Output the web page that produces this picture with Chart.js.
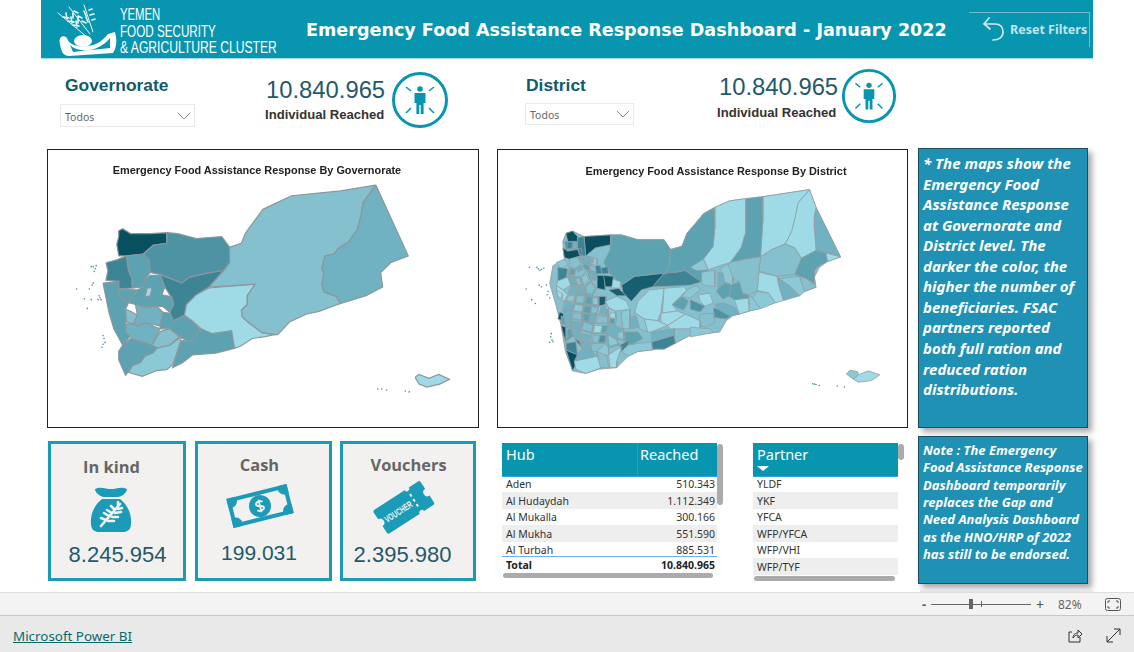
<!DOCTYPE html>
<html><head><meta charset="utf-8"><title>Emergency Food Assistance Response Dashboard</title>
<script src="https://cdn.jsdelivr.net/npm/chart.js@4/dist/chart.umd.min.js"></script>
<style>
html,body{margin:0;padding:0;background:#fff;width:1134px;height:652px;overflow:hidden;font-family:"Liberation Sans",sans-serif}
.a{position:absolute}
.a svg{display:block}
.t{position:absolute;white-space:pre;line-height:1}
canvas{position:absolute}
</style></head><body>
<div id="root"></div>
<script>
const reportTitle = 'Emergency Food Assistance Response Dashboard - January 2022';
const individualsReached = '10.840.965';
const modalityNames = ['In kind', 'Cash', 'Vouchers'];
const modalityValues = ['8.245.954', '199.031', '2.395.980'];
const hubNames = ['Aden', 'Al Hudaydah', 'Al Mukalla', 'Al Mukha', 'Al Turbah'];
const hubReached = ['510.343', '1.112.349', '300.166', '551.590', '885.531'];
const hubTotal = '10.840.965';
const partnerNames = ['YLDF', 'YKF', 'YFCA', 'WFP/YFCA', 'WFP/VHI', 'WFP/TYF'];
const mapNote = ['* The maps show the','Emergency Food','Assistance Response','at Governorate and','District level. The','darker the color, the','higher the number of','beneficiaries. FSAC','partners reported','both full ration and','reduced ration','distributions.'];
const dashNote = ['Note : The Emergency','Food Assistance Response','Dashboard temporarily','replaces the Gap and','Need Analysis Dashboard','as the HNO/HRP of 2022','has still to be endorsed.'];
// shade class per area: 0 = fewest beneficiaries ... 8 = most
const shadePalette = ['#9fdbe7','#8cc9d7','#84c0ce','#70b2c1','#5da2b1','#4d93a3','#3d8495','#155f70','#07505f'];

// governorate outlines, in map-grid units
const govNames = ['Sa\'ada','Al Jawf','Marib','Hajjah','Amran','Sana\'a','Al Mahwit','Al Hudaydah','Raymah','Dhamar','Ibb','Al Bayda','Al Dhale\'e','Taiz','Lahj','Abyan','Shabwah','Hadramawt','Al Maharah','Socotra','Amanat Al Asimah'];
const govShades = [8,5,6,6,4,4,4,4,2,3,3,4,2,4,1,4,0,2,3,0,0];
const govOutlines = [
[116,229,120,227,128,232,148,232,165,231,165,242,151,244,141,253,125,255,116,255,114,243,116,235],
[165,231,176,232,195,237,221,235,229,246,229,262,223,270,205,273,188,277,180,283,158,274,148,272,147,260,141,253,151,244,165,242],
[223,270,208,287,195,295,185,305,183,316,171,322,168,313,171,300,163,287,158,274,180,283,188,277,205,273],
[103,262,114,259,124,255,126,270,129,277,130,288,116,289,116,281,103,280,105,270],
[124,255,141,253,147,260,148,272,143,278,141,287,130,288,129,277,126,270],
[143,278,148,275,158,275,163,287,160,295,170,297,172,305,168,313,161,307,155,307,143,308,133,305,126,303,135,290,141,287],
[116,289,135,290,126,303,116,296],
[100,283,116,281,116,296,126,303,123,310,123,327,128,337,120,347,111,330,106,313,103,298],
[123,310,128,312,135,316,131,325,124,323],
[133,305,143,308,155,307,161,313,158,327,143,324,135,327,131,325,135,316],
[124,325,131,325,135,327,143,324,158,330,150,347,130,340,123,333],
[161,313,168,314,172,322,183,316,191,322,200,332,191,342,186,343,178,338,168,330,158,330,158,327],
[158,333,168,330,178,338,168,347,155,350,150,347],
[120,347,128,340,150,347,155,350,151,355,143,358,138,365,130,368,123,378,116,362,116,353],
[155,350,168,347,180,338,176,353,171,367,165,372,155,373,140,379,126,375,130,368,138,365,143,358,151,355],
[180,342,186,343,191,342,200,330,208,333,211,335,231,332,234,350,215,355,191,357,181,365,171,370,176,353],
[208,288,255,284,247,296,247,305,241,311,242,318,249,324,262,334,275,336,265,338,252,340,240,348,234,350,231,332,211,335,200,330,191,322,183,316,185,305,195,295],
[378,182,342,188,292,193,263,207,247,229,245,232,241,242,229,246,229,262,223,270,208,287,255,284,247,296,247,305,241,311,242,318,249,324,262,334,275,336,278,336,290,323,307,315,320,312,342,304,338,297,325,292,323,285,325,273,323,268,326,255,335,253,340,247,350,241,359,228,363,213,365,200],
[378,182,365,200,363,213,359,228,350,241,340,247,335,253,326,255,323,268,325,273,323,285,325,292,338,297,342,304,368,296,385,287,384,280,383,272,393,262,411,255,402,235],
[418,380,422,377,432,381,442,377,453,382,443,387,430,390,422,387],
[145,288,150,288,148,296,143,297]
];
const govIslands = [[380,392],[384,392],[389,393],[408,394],[412,395],[96,296],[97,298],[95,300],[98,300],[100,337],[101,340],[100,346],[102,344],[99,349],[88,266],[90,266],[92,268],[91,271],[86,289],[90,283],[88,300],[84,309],[73,289],[93,265],[89,285],[81,299]];

// district outlines, in map-grid units
const countryBase = [190,185,210,178,245,195,327,190,360,190,410,205,490,205,510,235,545,225,560,185,600,138,610,125,645,105,690,85,740,78,792,72,935,50,955,105,1030,258,990,272,965,290,950,320,955,352,905,370,860,388,790,410,770,420,700,440,680,455,660,490,610,495,570,500,520,525,455,545,410,550,380,565,345,600,290,605,250,618,210,610,188,550,175,470,160,410,140,340,150,285,185,265,180,210];
const distShades = [3,0,0,0,4,0,4,6,7,4,8,6,5,8,1,8,6,
2,4,1,2,3,0,1,1,0,2,4,1,4,1,3,5,5,0,3,2,0,1,
0,0,4,1,0,0,6,2,3,1,4,0,1,6,3,1,
8,6,8,8,8,7,0,6,6,7,8,0,4,
2,3,1,3,2,3,0,3,3,2,3,2,2,3,0,1,3,3,2,3,3,1,3,2,3,2,1,1,3,2,3,1,3,3,1,2,3,2,3,2,1,3,0,2,0];
const distOutlines = [
[955,105,1030,258,985,245,955,238,950,170,950,130],[983,245,1030,258,990,272],
[935,50,955,105,950,130,950,170,955,238,910,262,890,230,860,218,880,180,892,130,900,90],
[792,72,935,50,900,90,892,130,880,180,860,218,820,235,785,258,792,150],
[740,78,792,72,792,150,785,258,740,265,692,275,725,230,740,180],
[645,105,690,85,740,78,740,180,725,230,692,275,660,285,625,298,610,265,640,225,645,170],
[510,235,545,225,560,185,600,138,610,125,645,105,645,170,640,225,610,265,625,298,605,335,575,315,555,300,530,305,495,312,505,280],
[455,350,490,308,530,305,555,300,575,315,605,335,570,345,520,348],
[360,345,400,318,490,308,455,350,420,360,390,395,365,370],
[325,190,360,190,410,205,490,205,510,235,505,280,495,312,490,308,400,318,360,345,325,310,305,275,325,235],
[245,195,327,190,327,220,280,230,250,255],
[225,198,245,195,250,255,235,255,225,230],
[185,210,225,210,225,235,190,235],
[190,185,210,178,225,195,225,210,195,210],
[160,275,185,265,195,282,175,295],
[180,230,195,240,225,235,235,255,200,265,185,260],
[165,290,195,295,190,330,165,332],
// east
[785,258,820,235,860,218,890,230,910,262,890,312,835,318,780,300],
[910,262,955,238,985,245,990,272,965,285,950,300,950,340,925,325,890,312],
[840,325,905,318,920,365,905,378,870,345],
[905,318,925,325,955,350,920,365],
[840,325,870,345,905,378,855,393,842,350],
[780,305,835,318,842,350,855,393,830,400,810,370,775,362],
[775,365,810,370,830,400,785,418,760,385],
[750,378,760,385,785,418,750,425],
[705,390,748,385,750,425,720,435],
[692,275,740,265,785,258,780,305,775,362,750,375,730,370,720,335,695,320,685,280],
[720,335,730,370,750,378,748,385,705,390,690,380,695,345],
[685,280,700,320,700,345,675,335,670,310,660,295],
[650,365,670,335,695,345,690,378,670,388],
[610,265,625,298,590,300,570,290],
[655,305,670,310,675,340,655,355],
[570,390,615,410,600,428,570,420],
[640,415,705,432,680,450,645,445],
[595,375,630,370,640,400,615,410,600,395],
[645,405,670,400,705,412,720,435,690,440,655,420],
[600,435,640,432,645,460,620,475,595,470],
[570,455,595,460,590,470,570,475],
[605,305,645,300,645,350,610,345,605,335],
// centre-south
[410,395,445,360,490,355,480,430,470,455,430,450,400,430],
[490,355,550,350,560,360,515,405,530,425,485,432],
[515,405,545,380,565,395,550,422,530,415],
[560,360,590,345,600,360,570,385,545,380],
[480,432,530,425,555,435,500,470,480,460],
[555,435,600,455,600,480,520,490,500,470],
[453,520,520,500,525,525,490,543,455,543],
[520,480,600,480,570,500,525,525],
[450,490,520,480,520,500,453,520],
[400,430,430,450,440,490,415,480,400,460],
[370,490,410,490,425,510,390,530,370,520],
[430,450,470,455,480,460,500,470,450,490,440,490],
[380,530,450,520,455,545,410,550,380,565,360,550],
[355,530,385,515,380,530,360,550],
[385,445,405,440,415,475,385,480],
[570,475,630,480,640,492,570,505],
// south-west and central dark blocks
[190,545,225,560,225,580,210,610],
[190,525,220,520,225,560,190,545],
[175,470,190,475,190,525,183,500],
[170,428,185,435,180,455,165,450],
[285,315,310,315,310,360,285,355],
[320,360,350,355,375,378,345,378],
[330,325,358,335,355,355,325,353],
[295,292,318,288,320,310,300,310],
[280,285,295,285,300,310,280,310],
[290,380,312,380,312,405,290,410],
[305,315,335,318,330,350,310,350],
[310,395,345,380,375,395,385,420,340,425,320,415],
[175,440,210,455,205,470,175,465],
// west-central districts
[200,265,225,258,240,275,220,295,200,290],[225,258,255,255,265,280,240,275],[255,255,285,265,285,285,265,280],
[200,290,220,295,215,320,195,320],[220,295,240,275,255,300,235,320,215,320],[240,275,265,280,280,300,255,300],
[165,332,195,320,205,345,180,360,160,345],[195,320,215,320,225,345,205,345],[215,320,235,320,245,350,225,345],
[235,320,255,300,265,330,245,350],[255,300,280,300,285,330,265,330],[205,345,225,345,220,375,195,375],
[225,345,245,350,250,375,220,375],[245,350,265,330,285,355,270,380,250,375],[160,345,180,360,195,375,185,395,165,385],
[195,375,220,375,215,400,185,395],[220,375,250,375,245,405,215,400],[250,375,270,380,290,380,290,410,245,405],
[185,395,215,400,210,425,180,420],[215,400,245,405,240,430,210,425],[245,405,290,410,285,435,240,430],
[290,410,312,405,310,395,320,415,320,440,285,435],[180,420,210,425,205,450,185,455],[210,425,240,430,240,455,205,450],
[240,430,285,435,275,465,240,455],[285,435,320,440,320,465,275,465],[320,415,340,425,345,445,340,470,320,465,320,440],
[360,425,385,420,385,445,385,480,365,480,360,448],[185,455,205,450,205,475,190,475],[205,450,240,455,235,485,205,475],
[240,455,275,465,270,495,235,485],[275,465,320,465,315,495,270,495],[320,465,340,470,365,480,370,490,370,520,345,510,315,495],
[205,475,235,485,235,515,215,505],[235,485,270,495,265,525,235,515],[270,495,315,495,310,525,265,525],
[315,495,345,510,355,530,320,540,310,525],[215,505,235,515,240,540,220,520],[235,515,265,525,270,550,240,540],
[265,525,310,525,285,550,270,550],[310,525,320,540,320,560,285,565,285,550],[225,560,240,540,270,550,285,565,215,580],
[215,580,285,565,300,600,250,618,220,605],[285,550,315,565,320,600,295,600],[320,560,360,535,345,580,345,600,325,600]
];
// the smallest districts of the western highlands
const smallDistShades = [3,3,4,3,4,2,3,2,1,3,3,3,2,1,2,4,1,3,1,4,2,3,2,4,3,2,0,4,3,2,0,4,3,2,5,1,6,4,1,0,6,3,6];
const smallDistOutlines = [
[228,262,243,262,246,276,232,274],[258,258,272,262,272,276,260,276],[205,295,218,298,214,312,200,312],[222,292,238,284,242,298,226,304],
[242,280,258,284,262,298,246,296],[262,284,280,290,282,304,266,300],[200,322,214,322,220,340,205,338],[218,325,232,322,238,345,224,342],
[238,322,252,310,258,328,244,344],[258,305,276,305,280,326,264,326],[208,348,222,348,218,370,200,370],[228,350,242,354,246,372,224,372],
[250,352,266,336,280,354,268,374,254,370],[198,378,216,378,212,396,190,392],[224,378,246,378,242,402,218,398],[254,380,270,384,268,404,248,402],
[272,384,288,384,288,406,270,404],[190,400,212,404,208,422,184,418],[218,404,242,408,238,428,212,424],[248,410,268,410,264,432,242,428],
[268,412,288,414,284,432,266,432],[296,412,310,408,316,420,316,436,292,432],[214,430,238,434,238,452,208,448],[244,434,264,436,258,458,242,452],
[264,438,282,438,274,462,260,460],[290,440,318,444,318,462,280,462],[324,432,340,430,342,448,324,446],[324,448,340,450,338,466,322,462],
[208,456,236,460,232,482,208,472],[244,460,272,468,268,490,238,482],[278,470,300,470,296,492,274,492],[302,470,318,470,312,492,298,492],
[238,492,266,500,262,520,238,512],[274,500,292,500,288,522,270,522],[294,500,312,500,308,522,290,522],[318,498,342,512,350,526,322,534],
[218,510,232,518,236,534,224,522],[196,480,204,480,212,502,192,518],[350,490,366,490,366,516,348,506],[160,360,180,372,178,388,165,380],
[195,212,210,212,208,232,192,232],[212,212,224,212,224,233,210,233],[228,232,236,232,240,252,230,252]
];
const distIslands = [[945,650],[950,651],[955,652],[965,655],[1020,657],[1042,660],[78,290],[100,290],[105,295],[115,297],[122,293],[110,300],[68,357],[108,345],[115,350],[130,345],[135,365],[132,375],[140,385],[85,390],[96,402],[145,495],[143,505],[147,515],[140,522],[150,520]];
const socotraOutlines = [[1068,635,1085,622,1115,610,1150,622,1125,640,1085,645],[1048,620,1058,608,1082,612,1085,622,1068,635]];
const socotraShades = [0,1];

// ---------- page builder ----------
const root = document.getElementById('root');
function box(x,y,w,h,css){const d=document.createElement('div');d.className='a';d.style.cssText+=`left:${x}px;top:${y}px;width:${w}px;height:${h}px;`+(css||'');root.appendChild(d);return d;}
function txt(s,x,y,css,anchor,extra){const d=document.createElement('div');d.className='t';d.textContent=s;d.style.cssText+=`left:${x}px;top:${y}px;transform-origin:left center;transform:translate(${anchor==='r'?'-100%':anchor==='c'?'-50%':'0'},-50%) ${extra||''};`+(css||'');root.appendChild(d);return d;}
function fitWidth(el,target){const w=el.offsetWidth;el.style.transform+=` scaleX(${target/w})`;}
function svg(x,y,w,h,vb,inner,css){const d=document.createElement('div');d.className='a';d.style.cssText+=`left:${x}px;top:${y}px;width:${w}px;height:${h}px;`+(css||'');d.innerHTML=`<svg width="${w}" height="${h}" viewBox="${vb}" xmlns="http://www.w3.org/2000/svg">${inner}</svg>`;root.appendChild(d);}
const TEAL='#0795b0', DARK='#115a6b', SEG='"Noto Sans",sans-serif';

// header
box(41,0,1052,59,`background:${TEAL};border-bottom:1px solid #a8dbe5;box-sizing:border-box;`);
fitWidth(txt(reportTitle,306,29,'font:bold 18.3px "DejaVu Sans",sans-serif;color:#fff;'),641);
const narrow='font:17px "Liberation Sans",sans-serif;color:#fff;';
fitWidth(txt('YEMEN',120,15,narrow),40);fitWidth(txt('FOOD SECURITY',120,32,narrow),96);fitWidth(txt('& AGRICULTURE CLUSTER',120,48,narrow),157);
svg(55,4,65,54,'0 0 65 54',`<g stroke="#fff" fill="none" stroke-linecap="round" opacity=".95">
<path d="M3 9 L32 33" stroke-width="1"/><path d="M14 3 L35 30" stroke-width="1"/><path d="M29 1 L38 28" stroke-width="1"/>
<path d="M8 13l6 1M13 17l6 1M18 21l6 1M11 9l1 6M16 13l1 6M21 17l1 6M19 7l4 2M23 12l4 2M27 17l4 2M18 9l0 5M23 13l0 6M34 6l3-1M35 11l4-1M37 16l3-1M29 7l2 5M31 13l2 5" stroke-width="1.6"/></g>
<path d="M5 40 C3 33 8 30 12 34 C14 44 40 48 53 30 L60 28 C62 36 62 43 58 49 L14 52 C8 52 6 47 5 40 Z" fill="#fff"/>
<path d="M15 41 C24 50 44 48 55 34 L55 44 L18 48 Z" fill="#0795b0"/>
<ellipse cx="28" cy="37" rx="9" ry="6" fill="#fff"/>`);
box(969,12,121,1,'background:#6dbccd;');box(1089,12,1,35,'background:#6dbccd;');
svg(981,15,26,28,'0 0 26 28','<path d="M8 3 L3 9 L9 14 M3 9 H14 C20 9 22 13 22 17 C22 22 18 25 12 25" stroke="#cfe9ef" stroke-width="1.7" fill="none" stroke-linecap="round"/>');
txt('Reset Filters',1010,29,`font:bold 12.5px ${SEG};color:#c3e4eb;`);

// slicers and totals
function person(cx,cy,rx,ry){
 svg(cx-rx-3,cy-ry-3,2*rx+6,2*ry+6,`-30 -30 60 60`,`<circle cx="0" cy="0" r="26.5" fill="#fff" stroke="${TEAL}" stroke-width="3"/>
 <circle cx="0" cy="-11" r="2.8" fill="${TEAL}"/><path d="M-5.5 -7 H5.5 V3 H3.6 V14 H.7 V5 H-.7 V14 H-3.6 V3 H-5.5 Z" fill="${TEAL}"/>
 <path d="M-14 -13 L-9 -9 M14 -13 L9 -9 M-14 13 L-9 8 M14 13 L9 8" stroke="${TEAL}" stroke-width="1.5"/>`);
}
txt('Governorate',65,85,`font:bold 17.4px "Liberation Sans",sans-serif;color:${DARK};`);
txt('District',526,85,`font:bold 17.4px "Liberation Sans",sans-serif;color:${DARK};`);
function drop(x,y,w,h){box(x,y,w-2,h-2,'border:1px solid #eaeaea;');txt('Todos',x+5,y+h/2+1,`font:10.5px ${SEG};color:#666;`);
 svg(x+w-18,y+h/2-4,14,9,'0 0 14 9','<path d="M1 1 L7 7 L13 1" stroke="#888" fill="none"/>');}
drop(60,104,135,23);drop(525,103,109,22);
txt(individualsReached,266,90,`font:23.8px "Liberation Sans",sans-serif;color:#1f5a6b;`);
txt('Individual Reached',265,114,'font:bold 13.1px "Liberation Sans",sans-serif;color:#333;');
person(420,100,27,27);
txt(individualsReached,719,87,`font:23.8px "Liberation Sans",sans-serif;color:#1f5a6b;`);
txt('Individual Reached',717,112,'font:bold 13.1px "Liberation Sans",sans-serif;color:#333;');
person(869,96,26,27);

// map frames
box(47,149,430,277,'border:1px solid #222;');
box(497,149,409,277,'border:1px solid #222;');

// notes
const noteCss='background:#1e91b4;border:1px solid #1a4f60;box-shadow:4px 4px 6px rgba(0,0,0,.35);';
box(918,148,168,278,noteCss);box(918,436,168,146,noteCss);
mapNote.forEach((l,i)=>txt(l,923,163+i*20.55,`font:italic bold 15px ${SEG};color:#fff;`));
dashNote.forEach((l,i)=>txt(l,923,450+i*17.3,`font:italic bold 13px ${SEG};color:#fff;`));

// modality cards
const cardX=[48,195,340], cardW=[138,137,136], titleX=[111.5,259.5,408.5], valX=[117.5,259,402.5], titleY=[466,464,464], valY=[555,553,555], valSize=[22,21,22];
modalityNames.forEach((n,i)=>{
 box(cardX[i],441,cardW[i]-6,134,'background:#f2f1f0;border:3px solid #1a9bb7;');
 txt(n,titleX[i],titleY[i],`font:bold 16.4px "Open Sans",sans-serif;color:#666;`,'c');
 txt(modalityValues[i],valX[i],valY[i],`font:${valSize[i]}px "Liberation Sans",sans-serif;color:#1f5a6b;`,'c');
});
const IC='#1b9bb8';
svg(89,486,44,48,'0 0 44 48',`<path d="M6 3 C12 0 17 3 22 3 C27 3 32 0 38 3 C38 7 32 11 29 11 H15 C12 11 6 7 6 3 Z" fill="${IC}"/>
<path d="M13 13 H31 C38 18 43 28 42 38 C42 44 38 46 34 46 H10 C6 46 2 44 2 38 C1 28 6 18 13 13 Z" fill="${IC}"/>
<path d="M12 40 L31 18 M17 34 l-5-2 M20 30 l-5-3 M23 27 l-5-3 M26 24 l-4-4 M19 35 l6 0 M23 31 l6 0 M26 27 l6-1 M29 23 l4-1 M29 20 l0-4" stroke="#f2f1f0" stroke-width="2.6" stroke-linecap="round"/>`);
svg(226,482,68,48,'0 0 68 48',`<defs><clipPath id="noteClip"><rect x="3" y="9" width="62" height="30"/></clipPath></defs><g transform="rotate(-14 34 24)"><rect x="3" y="9" width="62" height="30" fill="${IC}"/><rect x="7" y="13" width="54" height="22" fill="#f2f1f0"/>
<g clip-path="url(#noteClip)"><circle cx="6" cy="12" r="7" fill="${IC}"/><circle cx="62" cy="12" r="7" fill="${IC}"/><circle cx="6" cy="36" r="7" fill="${IC}"/><circle cx="62" cy="36" r="7" fill="${IC}"/></g>
<circle cx="34" cy="24" r="11" fill="${IC}"/><path d="M37.5 20.5 C36 18.5 30.5 19 30.5 21.5 C30.5 25 37.5 23 37.5 26.5 C37.5 29 32 29.5 30.5 27.5 M34 17.5 V30.5" stroke="#f2f1f0" stroke-width="1.8" fill="none"/></g>`);
svg(370,480,66,56,'0 0 66 56',`<g transform="rotate(-33 33 28)"><path d="M6 16 Q6 14 8 14 H44 a2.5 2.5 0 0 0 5 0 H60 Q62 14 62 16 V24 a4 4 0 0 0 0 8 V40 Q62 42 60 42 H49 a2.5 2.5 0 0 0 -5 0 H8 Q6 42 6 40 V32 a4 4 0 0 0 0 -8 Z" fill="${IC}"/>
<text x="27" y="32" text-anchor="middle" font-family="Liberation Sans" font-weight="bold" font-size="9.5" textLength="31" lengthAdjust="spacingAndGlyphs" fill="#f2f1f0">VOUCHER</text><path d="M46.5 20v3M46.5 26v3M46.5 32v3" stroke="#f2f1f0" stroke-width="2"/></g>`);

// hub table
const cell=`font:10.5px ${SEG};color:#333;`;
box(502,443,215,33,`background:${TEAL};border-bottom:1px solid #2aa3e0;`);
box(637,443,1,33,'background:#1fa2bb;');
txt('Hub',506,454,`font:14.5px ${SEG};color:#fff;`);txt('Reached',640,454,`font:14.5px ${SEG};color:#fff;`);
const rowY=[484,500.5,517,534,550];
box(502,492,215,17,'background:#eeeeee;');box(502,525,215,17,'background:#eeeeee;');
hubNames.forEach((n,i)=>{txt(n,506,rowY[i],cell);txt(hubReached[i],715,rowY[i],cell,'r');});
box(502,556,215,1,'background:#6cb4ea;');
txt('Total',506,565,`font:bold 10.5px ${SEG};color:#222;`);txt(hubTotal,715,565,`font:bold 10.5px ${SEG};color:#222;`,'r');
box(503,573,210,5,'background:#ababab;border-radius:3px;');
box(717,444,6,61,'background:#ababab;border-radius:3px;');

// partner list
box(753,443,145,33,`background:${TEAL};border-bottom:1px solid #2aa3e0;`);
txt('Partner',757,454,`font:14.5px ${SEG};color:#fff;`);
svg(757,466,12,5,'0 0 12 5','<path d="M0 0 H12 L6 5 Z" fill="#fff"/>');
const partY=[484,501,517,534,550,567];
box(753,492,145,17,'background:#eeeeee;');box(753,525,145,17,'background:#eeeeee;');box(753,558,145,17,'background:#eeeeee;');
partnerNames.forEach((n,i)=>txt(n,757,partY[i],cell));
box(754,576,141,5,'background:#ababab;border-radius:3px;');
box(898,444,6,16,'background:#ababab;border-radius:3px;');

// footer
box(920,590,173,2,'background:#e6e6e6;');
box(0,592,1134,23,'background:#f3f3f3;border-top:1px solid #dedede;box-sizing:border-box;');
box(0,615,1134,37,'background:#e9e9e9;border-top:1px solid #c8c8c8;box-sizing:border-box;');
txt('Microsoft Power BI',13,636,`font:13.4px ${SEG};color:#0b6a6a;text-decoration:underline;`);
txt('-',922,604,`font:bold 13px ${SEG};color:#555;`);
box(931,604,100,1,'background:#666;');box(969,599,4,10,'background:#666;');box(981,601,1,6,'background:#666;');
txt('+',1036,604,`font:14px ${SEG};color:#555;`);txt('82%',1058,604,`font:12px ${SEG};color:#666;`);
svg(1105,598,16,13,'0 0 16 13','<rect x=".5" y=".5" width="15" height="12" rx="2" fill="none" stroke="#555"/><path d="M3 5V3H5M11 3H13V5M3 8V10H5M11 10H13V8" stroke="#555" fill="none"/>');
svg(1067,628,16,16,'0 0 16 16','<path d="M5 4H2V14H13V9M6 10C6 6 9 5 11 5V2L15 6L11 10V7C9 7 7 8 6 10Z" fill="none" stroke="#333"/>');
svg(1106,628,15,15,'0 0 15 15','<path d="M1 14L14 1M8 1H14V7M1 8V14H7" fill="none" stroke="#333"/>');

// ---------- maps drawn with Chart.js ----------
const toPoints = flat => { const p=[]; for(let i=0;i<flat.length;i+=2)p.push({x:flat[i],y:flat[i+1]}); p.push({x:flat[0],y:flat[1]}); return p; };
let drawOrder = 0; // later areas are painted over earlier ones
function mapDatasets(outlines,shades,lineW,lineC){
 return outlines.map((o,i)=>({type:'scatter',data:toPoints(o),showLine:true,fill:'shape',backgroundColor:shadePalette[shades[i]],borderColor:lineC,borderWidth:lineW,pointRadius:0,tension:0,order:--drawOrder}));
}
function islandDataset(points,r){return {type:'scatter',data:points.map(p=>({x:p[0],y:p[1]})),showLine:false,pointRadius:r,pointBorderWidth:0,pointBackgroundColor:'#4f8c9b',order:--drawOrder};}
function drawMap(id,x,y,w,h,xr,yr,sets){
 const c=document.createElement('canvas');c.id=id;c.width=w;c.height=h;c.style.cssText=`left:${x}px;top:${y}px;width:${w}px;height:${h}px;`;root.appendChild(c);
 return new Chart(c,{type:'scatter',data:{datasets:sets},options:{responsive:false,animation:false,events:[],layout:{padding:0},
  plugins:{legend:{display:false},tooltip:{enabled:false},title:{display:false}},
  scales:{x:{type:'linear',display:false,min:xr[0],max:xr[1]},y:{type:'linear',display:false,reverse:true,min:yr[0],max:yr[1]}}}});
}
drawMap('govMap',48,150,429,276,[48,477],[150,426],[...mapDatasets(govOutlines,govShades,1.2,'#8b979c'),islandDataset(govIslands,.8)]);
drawOrder = 0;
drawMap('distMap',498,150,408,276,[-6,1218],[-60,768],[
 ...mapDatasets([countryBase],[2],.9,'#929ea3'),
 ...mapDatasets(distOutlines,distShades,.8,'#929ea3'),
 ...mapDatasets(smallDistOutlines,smallDistShades,.7,'#929ea3'),
 ...mapDatasets(socotraOutlines,socotraShades,.8,'#929ea3'),
 islandDataset(distIslands,.8)
]);
txt('Emergency Food Assistance Response By Governorate',257,170,'font:bold 10.9px "Liberation Sans",sans-serif;color:#222;','c');
txt('Emergency Food Assistance Response By District',716,171,'font:bold 10.9px "Liberation Sans",sans-serif;color:#222;','c');
</script>
</body></html>
